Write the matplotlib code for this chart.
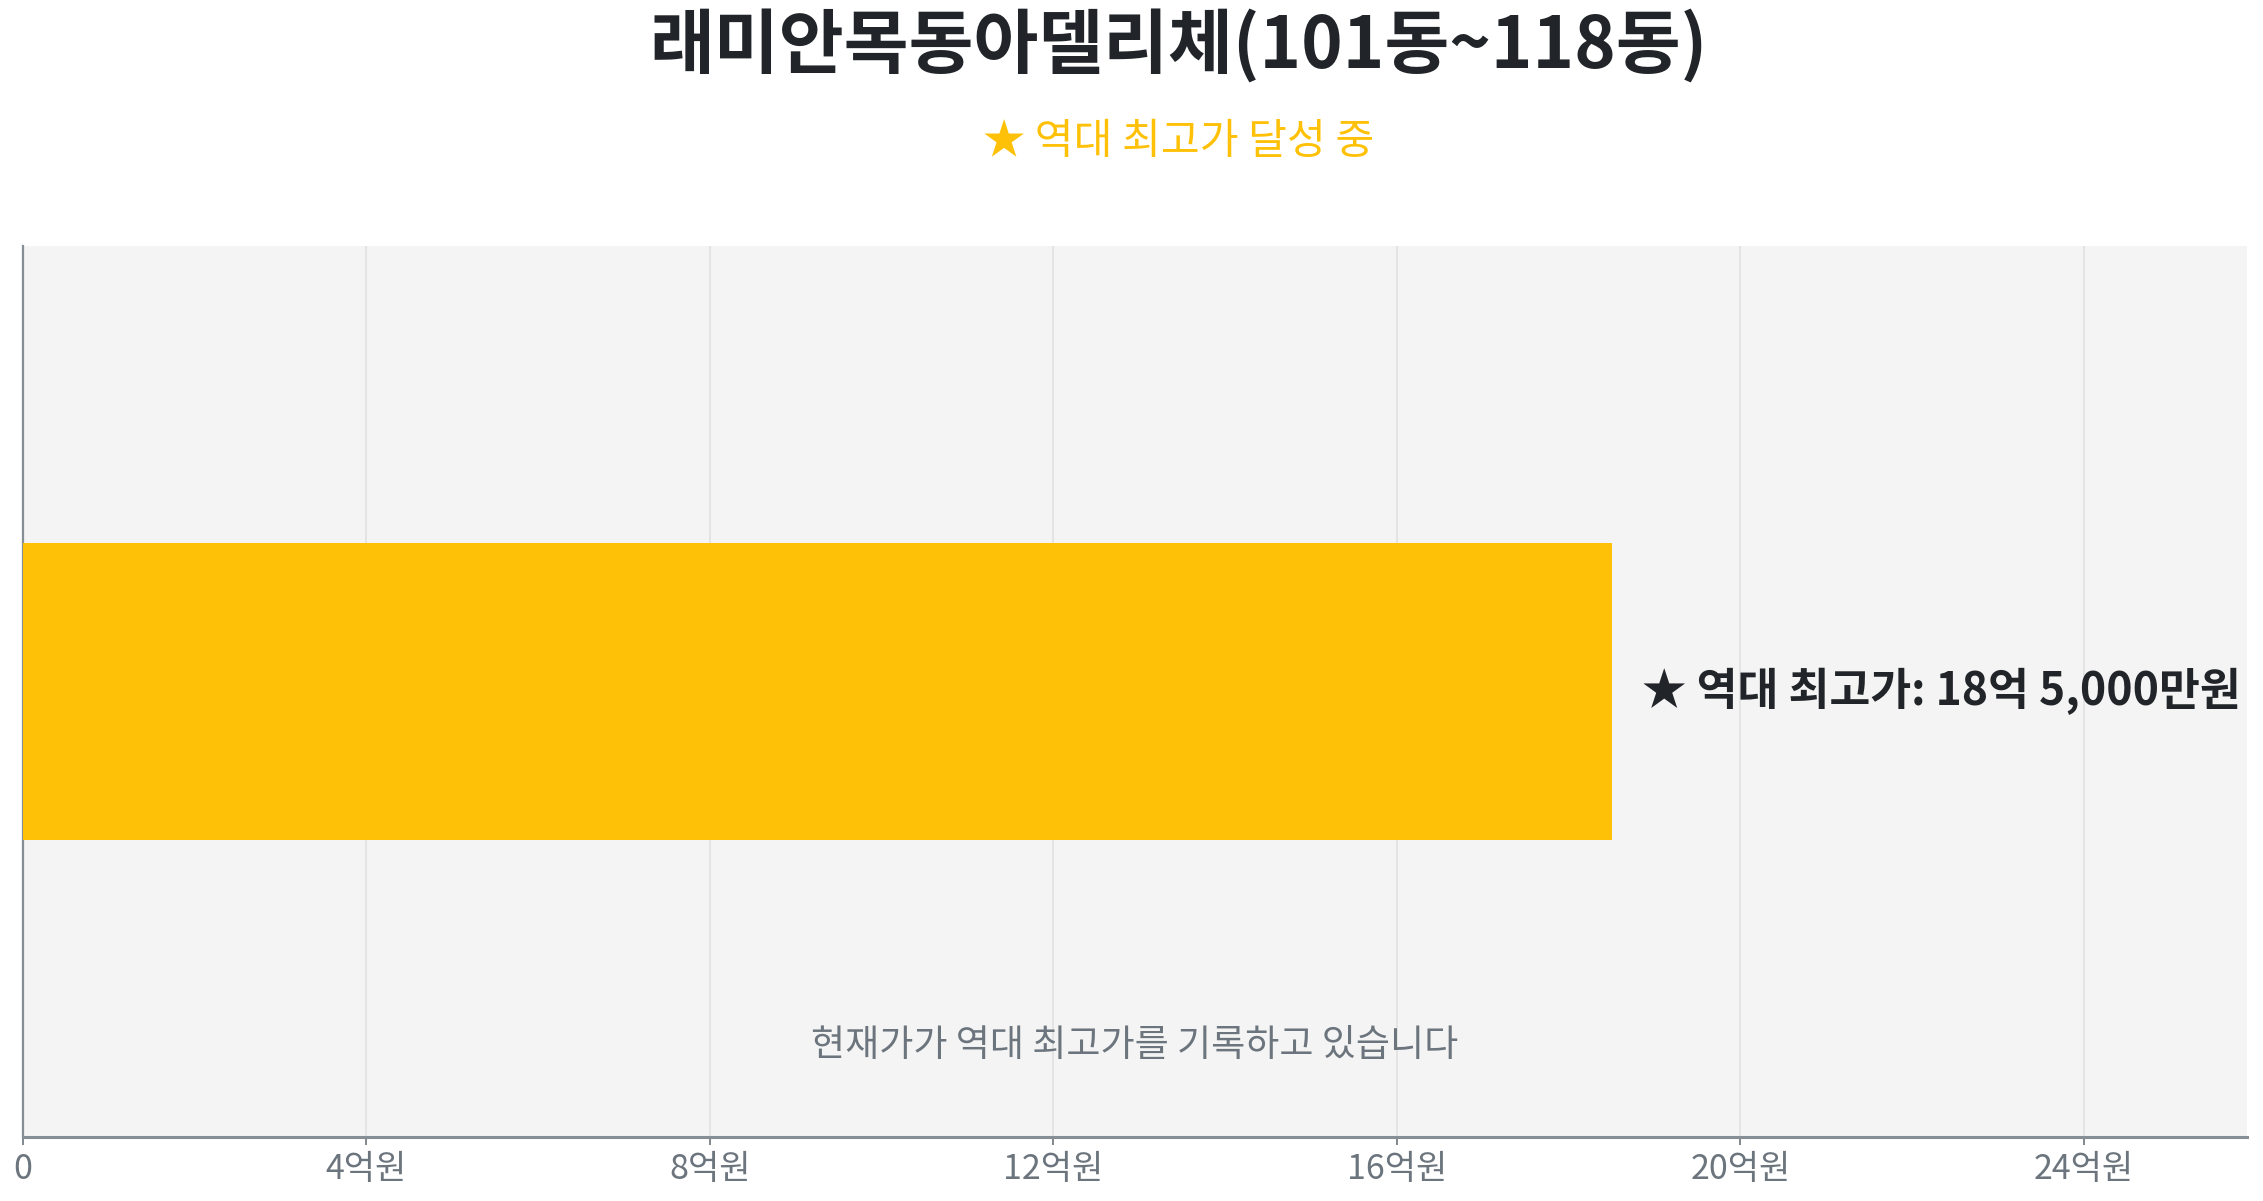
import matplotlib
matplotlib.use("Agg")
import matplotlib.pyplot as plt

plt.rcParams['font.family'] = ['Noto Sans CJK KR', 'DejaVu Sans']

title = "래미안목동아델리체(101동~118동)"
subtitle = "★ 역대 최고가 달성 중"
categories = ["역대 최고가"]
values = [18.5]  # 억원
bar_labels = ["★ 역대 최고가: 18억 5,000만원"]
tick_values = [0, 4, 8, 12, 16, 20, 24]
tick_labels = ["0", "4억원", "8억원", "12억원", "16억원", "20억원", "24억원"]
note = "현재가가 역대 최고가를 기록하고 있습니다"

fig = plt.figure(figsize=(22.63, 12.01), dpi=100)
ax = fig.add_axes([0.01016, 0.0533, 0.98277, 0.7419])
ax.set_facecolor('#f4f4f4')

ax.barh(range(len(categories)), values, height=0.5, color='#ffc107', zorder=3)
ax.set_xlim(0, max(values) * 1.4)
ax.set_ylim(-0.75, 0.75)
ax.set_yticks([])

for i, (v, lab) in enumerate(zip(values, bar_labels)):
    ax.text(v + 0.36, i, lab, ha='left', va='center', fontsize=32,
            fontweight='bold', color='#212529', zorder=4)

ax.set_xticks(tick_values)
ax.set_xticklabels(tick_labels, fontsize=24.5, color='#6c757d')
ax.tick_params(axis='x', length=6, width=1.2, color='#6c757d', pad=5)
ax.grid(axis='x', color='#e3e3e3', linewidth=1.3, zorder=0)
ax.set_axisbelow(True)

for s in ['top', 'right']:
    ax.spines[s].set_visible(False)
ax.spines['left'].set_color('#868e96')
ax.spines['left'].set_linewidth(1.6)
ax.spines['bottom'].set_color('#868e96')
ax.spines['bottom'].set_linewidth(2.2)

ax.text(0.5, 0.103, note, transform=ax.transAxes, ha='center', va='center',
        fontsize=26.7, color='#6c757d')

fig.text(0.521, 0.962, title, ha='center', va='center', fontsize=50.8,
         fontweight='bold', color='#212529')
fig.text(0.521, 0.882, subtitle, ha='center', va='center', fontsize=30.4,
         color='#ffc107')

fig.savefig('out.png', dpi=100)
